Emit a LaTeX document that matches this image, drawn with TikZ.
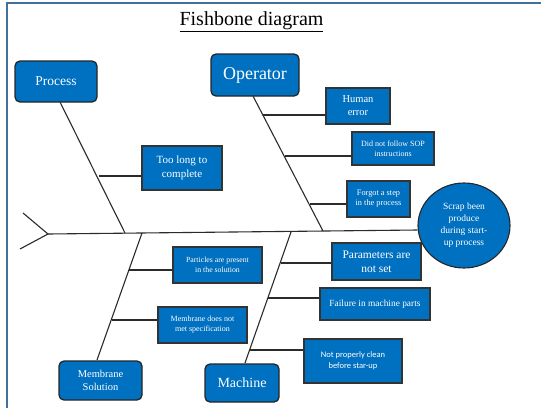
\documentclass[tikz,border=0pt]{standalone}
\usepackage{fontspec}
\setmainfont{Liberation Serif}
\newfontfamily\calfont{Carlito}
\usetikzlibrary{shapes.geometric}
\definecolor{boxblue}{HTML}{0070C0}
\definecolor{framecol}{HTML}{41719C}
\definecolor{bonecol}{HTML}{2B2B2B}
\tikzset{
  cat/.style={draw=black!85, line width=1.3pt, fill=boxblue, rounded corners=5pt, inner sep=0pt, text=white, align=center},
  cause/.style={draw=black!80, line width=1.1pt, fill=boxblue, inner sep=0pt, text=white, align=center},
  bone/.style={draw=bonecol, line width=1.1pt},
}
\newcommand{\fsz}[2]{\fontsize{#1}{#2}\selectfont}
\begin{document}
\begin{tikzpicture}[x=1pt,y=-1pt]
\useasboundingbox (0,0) rectangle (541,408);
\fill[white] (0,0) rectangle (541,408);
% frame
\draw[framecol, line width=1.4pt] (7,408) -- (7,3) -- (541,3);
% title
\node[inner sep=0pt, font=\fsz{20}{24}] (title) at (251.5,22) {\underline{Fishbone diagram}};

% head
\node[ellipse, draw=black!85, line width=1.1pt, fill=boxblue, minimum width=92pt, minimum height=85pt, inner sep=0pt, text=white, align=center, font=\fsz{9.5}{12}] (head) at (464,225.5) {Scrap been\\produce\\during start-\\up process};

% category boxes
\node[cat, minimum width=82pt, minimum height=41pt, font=\fsz{13.5}{16}] (process) at (56,81.5) {Process};
\node[cat, minimum width=88pt, minimum height=42pt, font=\fsz{18}{21}] (operator) at (255,75) {Operator};
\node[cat, minimum width=83pt, minimum height=39pt, font=\fsz{10.5}{13}] (membrane) at (100.5,380.5) {Membrane\\Solution};
\node[cat, minimum width=74pt, minimum height=38pt, font=\fsz{14}{16}] (machine) at (242,383) {Machine};

% cause boxes
\node[cause, minimum width=80pt, minimum height=44pt, font=\fsz{11}{14}] (toolong) at (182,168) {Too long to\\complete};
\node[cause, minimum width=64pt, minimum height=36pt, font=\fsz{10.5}{13}] (human) at (358,106) {Human\\error};
\node[cause, minimum width=82pt, minimum height=33pt, font=\fsz{8}{10}] (sop) at (393,148.5) {Did not follow SOP\\instructions};
\node[cause, minimum width=63pt, minimum height=36pt, font=\fsz{8.3}{10}] (forgot) at (378.5,199) {Forgot a step\\in the process};
\node[cause, minimum width=89pt, minimum height=36pt, font=\fsz{7.8}{10}] (particles) at (217.5,265) {Particles are present\\in the solution};
\node[cause, minimum width=89pt, minimum height=36pt, font=\fsz{8}{10}] (spec) at (202.5,325) {Membrane does not\\met specification};
\node[cause, minimum width=89pt, minimum height=37pt, font=\fsz{11.5}{14}] (params) at (376.5,261.5) {Parameters are\\not set};
\node[cause, minimum width=110pt, minimum height=32pt, font=\fsz{9.4}{12}] (failure) at (375,304) {Failure in machine parts};
\node[cause, minimum width=98pt, minimum height=44pt, font=\calfont\fsz{8.5}{11}] (clean) at (353,361) {Not properly clean\\before star-up};

% spine and tail
\coordinate (tail) at (48,234);
\coordinate (tailA) at (23,213);
\coordinate (tailB) at (20,249);
\draw[bone] (tailA) -- (tail) -- (tailB);
\draw[bone] (tail) -- (head.west |- 0,230);

% junctions on spine
\coordinate (jP) at (125,233);
\coordinate (jO) at (323,231);
\coordinate (jM) at (142,233);
\coordinate (jMa) at (291,232);

% bones
\coordinate (pTop) at (60,102);
\draw[bone] (pTop) -- (jP);
\coordinate (oTop) at (253,96);
\draw[bone] (oTop) -- (jO);
\coordinate (mBot) at (97,360);
\draw[bone] (jM) -- (mBot);
\coordinate (maBot) at (245,363);
\draw[bone] (jMa) -- (maBot);

% sub bones
\coordinate (b1) at (99,176);
\draw[bone] (b1) -- (toolong.west |- b1);
\coordinate (b2) at (263,115);
\draw[bone] (b2) -- (human.west |- b2);
\coordinate (b3) at (285,156);
\draw[bone] (b3) -- (sop.west |- b3);
\coordinate (b4) at (310,204);
\draw[bone] (b4) -- (forgot.west |- b4);
\coordinate (b5) at (129,270);
\draw[bone] (b5) -- (particles.west |- b5);
\coordinate (b6) at (112,320);
\draw[bone] (b6) -- (spec.west |- b6);
\coordinate (b7) at (281,263);
\draw[bone] (b7) -- (params.west |- b7);
\coordinate (b8) at (268,298);
\draw[bone] (b8) -- (failure.west |- b8);
\coordinate (b9) at (250,350);
\draw[bone] (b9) -- (clean.west |- b9);
\end{tikzpicture}
\end{document}
